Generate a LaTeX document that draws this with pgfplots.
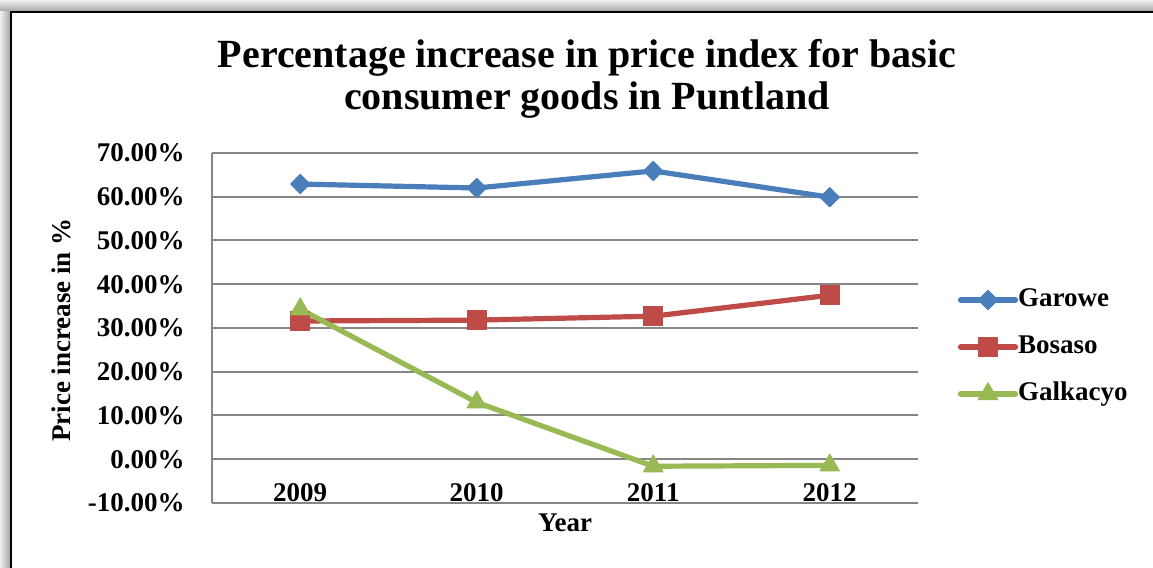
\documentclass[border=0pt]{standalone}
\usepackage{fontspec}
\setmainfont{Liberation Serif}
\usepackage{pgfplots}
\pgfplotsset{compat=1.18}

\definecolor{garowe}{HTML}{4A7EBB}
\definecolor{bosaso}{HTML}{BE4B48}
\definecolor{galkacyo}{HTML}{98B954}
\definecolor{gridgray}{HTML}{868686}

\newcommand{\lblfont}{\fontsize{13.5}{15}\selectfont\bfseries}

\begin{document}
\begin{tikzpicture}
\useasboundingbox (-106pt,-32.5pt) rectangle (470.5pt,251.5pt);
\fill[white] (-106pt,-32.5pt) rectangle (470.5pt,251.5pt);
% chart border with soft shadow
\shade[top color=gray!12, bottom color=gray!75] (-106pt,245.5pt) rectangle (470.5pt,251.5pt);
\shade[left color=gray!12, right color=gray!75] (-106pt,-32.5pt) rectangle (-100.5pt,245.5pt);
\draw[line width=1pt] (-100.5pt,-32.5pt) -- (-100.5pt,245.5pt) -- (470.5pt,245.5pt);

\node[font=\fontsize{20}{24}\selectfont\bfseries, anchor=base] at (187.5pt,217.5pt)
  {Percentage increase in price index for basic};
\node[font=\fontsize{20}{24}\selectfont\bfseries, anchor=base] at (187.5pt,196.5pt)
  {consumer goods in Puntland};

\begin{axis}[
  at={(0pt,0pt)}, anchor=south west,
  width=353pt, height=175pt, scale only axis,
  xmin=-0.5, xmax=3.5,
  ymin=-10, ymax=70,
  xtick={0,1,2,3},
  xticklabels={2009,2010,2011,2012},
  ytick={-10,0,10,20,30,40,50,60,70},
  yticklabels={-10.00\%,0.00\%,10.00\%,20.00\%,30.00\%,40.00\%,50.00\%,60.00\%,70.00\%},
  axis x line*=bottom, axis y line*=left,
  axis line style={-, draw=gridgray, line width=1pt},
  major tick length=0pt,
  tick style={draw=none},
  ymajorgrids,
  grid style={gridgray, line width=1pt},
  xticklabel style={font=\lblfont, anchor=base, inner sep=0pt, yshift=0.5pt},
  yticklabel style={font=\lblfont, anchor=east, inner sep=0pt, xshift=-13.5pt},
  xlabel={Year},
  xlabel style={font=\lblfont, at={(axis description cs:0.5,0)}, anchor=base, inner sep=0pt, yshift=-14.5pt},
  ylabel={Price increase in \%},
  ylabel style={font=\fontsize{13.5}{15}\selectfont\bfseries, at={(axis description cs:-0.2011,0.494)}, anchor=base, inner sep=0pt},
  legend style={at={(axis description cs:1.056,0.4457)}, anchor=west,
    draw=none, fill=none, inner sep=0pt, font=\lblfont,
    row sep=11.5pt, column sep=0pt,
    nodes={inner sep=0pt, text height=9pt, text depth=3pt}},
  legend cell align=left,
  legend image code/.code={\draw[mark repeat=2,mark phase=2] plot coordinates {(0pt,0pt)(13.75pt,0pt)(27.5pt,0pt)};},
  every axis plot/.append style={line width=2.6pt, line join=round, line cap=round},
]
\addplot[color=garowe, mark=square*, mark size=3.4pt,
  mark options={solid, rotate=45, fill=garowe, line width=0.5pt}]
  coordinates {(0,62.9) (1,62.0) (2,65.9) (3,59.9)};
\addlegendentry{Garowe}
\addplot[color=bosaso, mark=square*, mark size=4.7pt,
  mark options={solid, fill=bosaso, line width=0.5pt}]
  coordinates {(0,31.6) (1,31.8) (2,32.7) (3,37.5)};
\addlegendentry{Bosaso}
\addplot[color=galkacyo, mark=triangle*, mark size=5.6pt,
  mark options={solid, fill=galkacyo, line width=0.5pt}]
  coordinates {(0,34.3) (1,13.0) (2,-1.6) (3,-1.4)};
\addlegendentry{Galkacyo}
\end{axis}
\end{tikzpicture}
\end{document}
